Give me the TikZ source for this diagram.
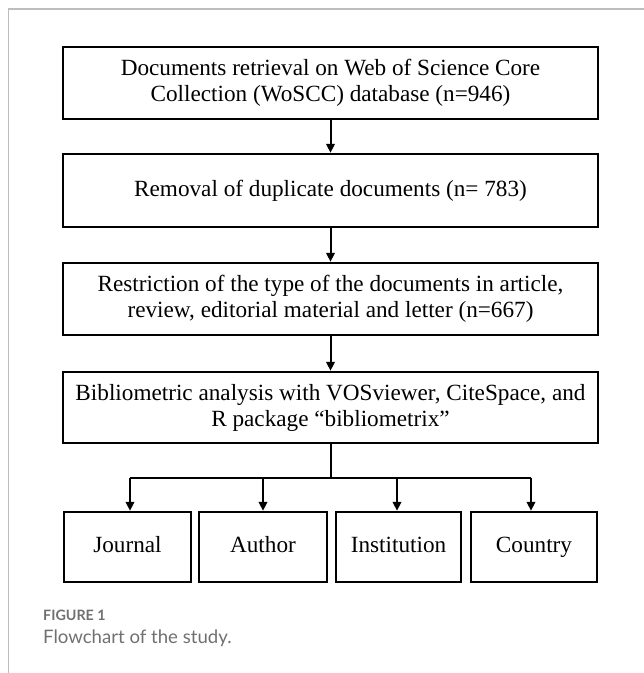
\documentclass[tikz,border=0pt]{standalone}
\usepackage{fontspec}
\setmainfont{Liberation Serif}
\newfontfamily\capfont{Lato}
\usetikzlibrary{arrows.meta,calc}
\definecolor{framegray}{HTML}{BDBDBD}
\definecolor{capgray}{HTML}{707070}
\tikzset{
  box/.style={draw=black, line width=2.4pt, inner sep=0pt, align=center,
    font=\fontsize{23.2}{26}\selectfont},
  bigbox/.style={box, minimum width=535pt},
  smallbox/.style={box, minimum height=70pt, text height=15pt, text depth=4pt},
  conn/.style={line width=2pt, draw=black},
  arr/.style={conn, -{Triangle[width=8.5pt,length=9pt]}},
}
\begin{document}
\begin{tikzpicture}[x=1pt,y=-1pt]
\useasboundingbox (0,0) rectangle (644,673);
\draw[framegray, line width=1.6pt] (8.5,673) -- (8.5,9) -- (644,9);

\node[bigbox, minimum height=72pt] (b1) at (330.5,83)
  {Documents retrieval on Web of Science Core\\Collection (WoSCC) database (n=946)};
\node[bigbox, minimum height=73pt] (b2) at (330.5,190.5)
  {Removal of duplicate documents (n= 783)};
\node[bigbox, minimum height=72pt] (b3) at (330.5,299)
  {Restriction of the type of the documents in article,\\review, editorial material and letter (n=667)};
\node[bigbox, minimum height=71pt] (b4) at (330.5,407.5)
  {Bibliometric analysis with VOSviewer, CiteSpace, and\\R package “bibliometrix”};

\node[smallbox, minimum width=127pt] (j) at (127.5,547) {Journal};
\node[smallbox, minimum width=128pt] (a) at (263,547) {Author};
\node[smallbox, minimum width=125pt] (i) at (398.5,547) {Institution};
\node[smallbox, minimum width=126pt] (c) at (534,547) {Country};

\draw[arr] (b1) -- (b2);
\draw[arr] (b2) -- (b3);
\draw[arr] (b3) -- (b4);

\coordinate (hub) at (330.5,477.5);
\coordinate (bj) at (130,477.5);
\coordinate (ba) at (263,477.5);
\coordinate (bi) at (397,477.5);
\coordinate (bc) at (531,477.5);
\draw[conn] (b4.south) -- (hub);
\draw[conn] (bj) -- (bc);
\draw[arr] (bj) -- (bj |- j.north);
\draw[arr] (ba) -- (ba |- a.north);
\draw[arr] (bi) -- (bi |- i.north);
\draw[arr] (bc) -- (bc |- c.north);

\node[anchor=base west, inner sep=0pt, text=capgray, font=\capfont\bfseries\fontsize{14.3}{17}\selectfont] (fig) at (43,620.5) {FIGURE 1};
\node[anchor=base west, inner sep=0pt, text=capgray, font=\capfont\fontsize{18.6}{22}\selectfont] (capt) at (43,643) {Flowchart of the study.};
\end{tikzpicture}
\end{document}
